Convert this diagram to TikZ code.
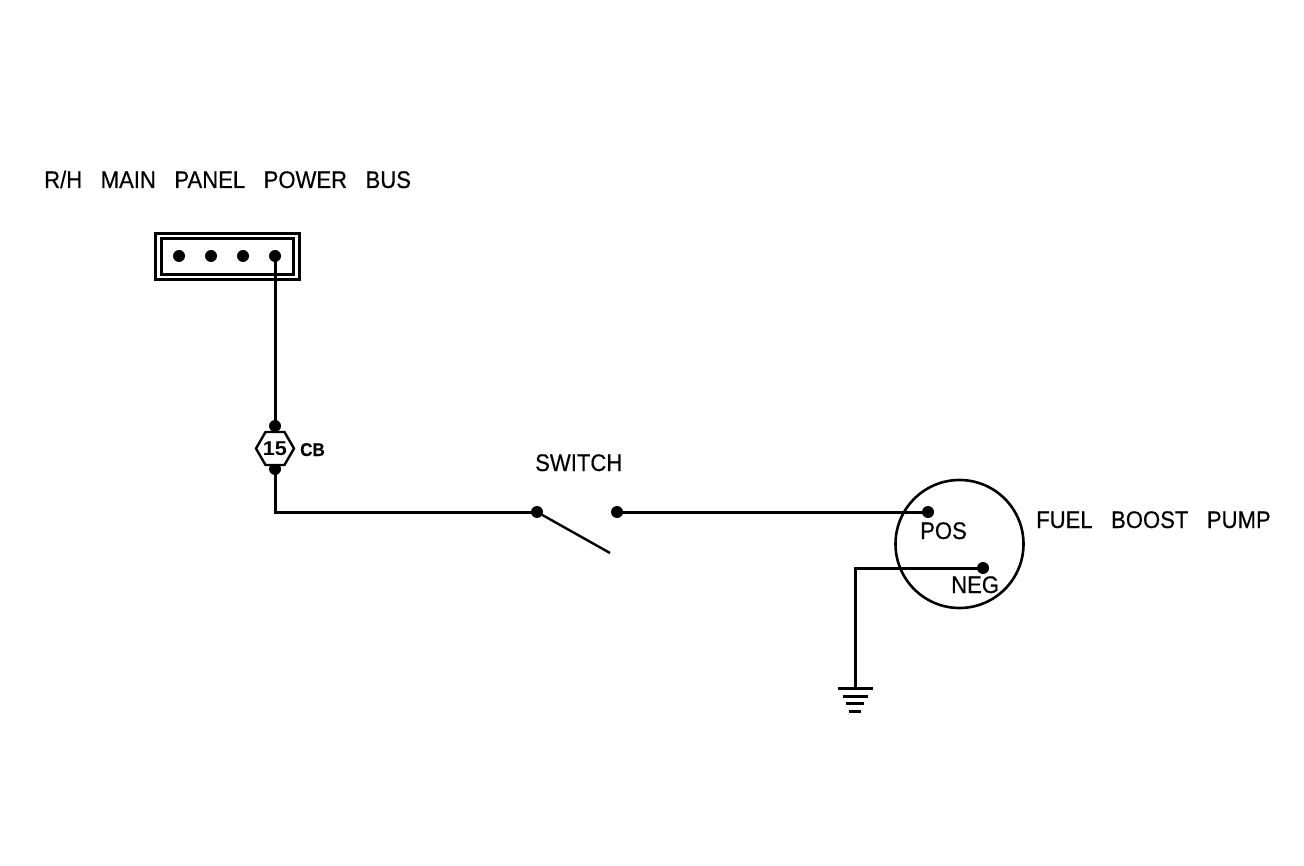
\documentclass[tikz,border=0pt]{standalone}
\usepackage{fontspec}
\setmainfont{Liberation Sans}
\newfontfamily\cadfont[FakeStretch=0.92, FakeBold=0.4]{Liberation Sans}
\newfontfamily\cadwide[FakeStretch=1.08]{Liberation Sans}
\usetikzlibrary{shapes.geometric, positioning}
\tikzset{
  wire/.style={line width=3pt},
  thin wire/.style={line width=2.4pt},
  dot/.style={circle, fill=black, inner sep=0pt, minimum size=12pt},
  lbl/.style={inner sep=0pt, anchor=base west, font=\fontsize{24}{26}\cadfont},
  bold lbl/.style={inner sep=0pt, font=\fontsize{20}{22}\cadwide\bfseries},
}
\newcommand{\gap}{\hspace{18.5pt}}
\begin{document}
\begin{tikzpicture}[x=1pt, y=-1pt]
  \useasboundingbox (0,0) rectangle (1304,866);
  % bus
  \node[lbl] (bustxt) at (44,188) {R/H\gap MAIN\gap PANEL\gap POWER\gap BUS};
  \node[draw, wire, minimum width=143.5pt, minimum height=46.5pt, outer sep=0pt, inner sep=0pt] (busout) at (227.5,256.3) {};
  \node[draw, wire, minimum width=131.5pt, minimum height=35.5pt, outer sep=0pt, inner sep=0pt] (busin) at (227.5,256.3) {};
  \foreach \n/\x in {a/179, b/211, c/243, d/275}
    \node[dot] (bus\n) at (\x,256) {};
  % breaker
  \node[dot] (cbtop) at (275,426) {};
  \node[dot] (cbbot) at (275,469) {};
  \node[draw, fill=white, thin wire, regular polygon, regular polygon sides=6, minimum size=38pt, inner sep=0pt, outer sep=0pt] (cb) at (275,448.5) {};
  \node[bold lbl, anchor=base] (cbnum) at (275,455.5) {15};
  \node[bold lbl, anchor=base west, font=\fontsize{18.5}{20}\cadfont\bfseries] (cbtxt) at (300,456) {CB};
  % switch
  \node[dot] (swa) at (537,512) {};
  \node[dot] (swb) at (617,512) {};
  \coordinate (blade) at (610,553);
  \node[lbl] (swtxt) at (535,471) {SWITCH};
  % pump
  \node[draw, circle, line width=2.6pt, minimum size=128pt, inner sep=0pt, outer sep=0pt] (pump) at (959.5,544) {};
  \node[dot] (pos) at (928,512) {};
  \node[dot] (neg) at (983,568) {};
  \node[lbl] (postxt) at (920,539) {POS};
  \node[lbl] (negtxt) at (951,593) {NEG};
  \node[lbl] (pumptxt) at (1036,528) {FUEL\gap BOOST\gap PUMP};
  % wires
  \draw[wire] (busd.center) -- (cbtop.center);
  \draw[wire] (cbbot.center) |- (swa.center);
  \draw[thin wire] (swa.center) -- (blade);
  \draw[wire] (swb.center) -- (pos.center);
  % ground
  \coordinate (gnd) at (855,688);
  \draw[wire] (neg.center) -| (gnd);
  \foreach \y/\w in {0/17.5, 8/12.5, 15/9, 23/6}
    \draw[wire] ([shift={(-\w,\y)}]gnd) -- ([shift={(\w,\y)}]gnd);
\end{tikzpicture}
\end{document}
